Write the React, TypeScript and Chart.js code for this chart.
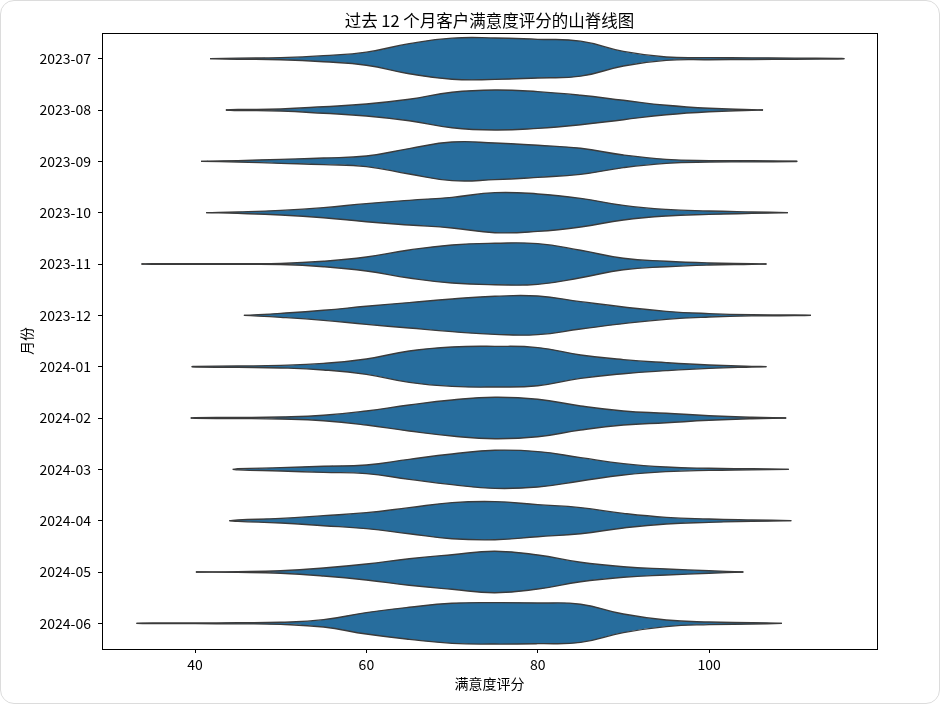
import React, { useEffect, useRef } from "react";
import { Chart, registerables } from "chart.js";

Chart.register(...registerables);

// ---- data ----
const months = [
  "2023-07", "2023-08", "2023-09", "2023-10", "2023-11", "2023-12",
  "2024-01", "2024-02", "2024-03", "2024-04", "2024-05", "2024-06",
];

// score positions at which the violin half-widths were read
const scoreGrid = [35, 40, 45, 50, 55, 60, 65, 70, 75, 80, 85, 90, 95, 100, 105, 110, 115];

// lowest / highest extent of each violin (score)
const scoreMin = [41.75, 43.6, 40.7, 41.3, 33.75, 45.7, 39.6, 39.5, 44.4, 44.0, 40.1, 33.16];
const scoreMax = [115.8, 106.3, 110.3, 109.2, 106.7, 111.9, 106.7, 109.0, 109.3, 109.6, 104.0, 108.5];

// half-width of each violin (in category units) at scoreGrid
const width2023_07 = [null, null, 0.010, 0.020, 0.059, 0.127, 0.293, 0.400, 0.404, 0.376, 0.341, 0.142, 0.033, 0.020, 0.016, 0.010, 0.006];
const width2023_08 = [null, null, 0.010, 0.020, 0.064, 0.117, 0.209, 0.345, 0.390, 0.357, 0.287, 0.189, 0.092, 0.033, 0.006, null, null];
const width2023_09 = [null, null, 0.014, 0.039, 0.064, 0.103, 0.248, 0.376, 0.357, 0.312, 0.254, 0.123, 0.039, 0.014, 0.010, 0.004, null];
const width2023_10 = [null, null, 0.014, 0.045, 0.098, 0.176, 0.240, 0.298, 0.390, 0.365, 0.279, 0.142, 0.064, 0.033, 0.014, null, null];
const width2023_11 = [0.006, 0.006, 0.006, 0.010, 0.053, 0.137, 0.273, 0.371, 0.404, 0.396, 0.267, 0.111, 0.053, 0.020, 0.006, null, null];
const width2023_12 = [null, null, null, 0.039, 0.098, 0.176, 0.248, 0.318, 0.371, 0.376, 0.267, 0.162, 0.078, 0.033, 0.010, 0.006, null];
const width2024_01 = [null, 0.006, 0.014, 0.025, 0.064, 0.150, 0.306, 0.384, 0.396, 0.371, 0.228, 0.137, 0.078, 0.033, 0.006, null, null];
const width2024_02 = [null, 0.006, 0.010, 0.020, 0.053, 0.137, 0.254, 0.351, 0.404, 0.365, 0.234, 0.137, 0.092, 0.045, 0.014, null, null];
const width2024_03 = [null, null, 0.010, 0.033, 0.059, 0.084, 0.195, 0.298, 0.371, 0.345, 0.228, 0.111, 0.045, 0.020, 0.010, null, null];
const width2024_04 = [null, null, 0.014, 0.045, 0.098, 0.156, 0.254, 0.351, 0.371, 0.312, 0.254, 0.142, 0.064, 0.033, 0.014, null, null];
const width2024_05 = [null, null, 0.006, 0.025, 0.078, 0.156, 0.259, 0.337, 0.404, 0.332, 0.189, 0.103, 0.059, 0.025, null, null, null];
const width2024_06 = [0.006, 0.006, 0.010, 0.020, 0.072, 0.209, 0.312, 0.390, 0.404, 0.396, 0.371, 0.181, 0.064, 0.025, 0.014, null, null];

const monthWidths: (number | null)[][] = [
  width2023_07, width2023_08, width2023_09, width2023_10, width2023_11, width2023_12,
  width2024_01, width2024_02, width2024_03, width2024_04, width2024_05, width2024_06,
];

const xTicks = [40, 60, 80, 100];

const TITLE = "过去 12 个月客户满意度评分的山脊线图";
const X_TITLE = "满意度评分";
const Y_TITLE = "月份";

// ---- styles ----
const FONT = "'Noto Sans CJK SC', 'Noto Sans', sans-serif";
const FILL = "#276d9d";
const EDGE = "#3b3b3b";

function buildProfile(i: number) {
  const pts: { x: number; w: number }[] = [{ x: scoreMin[i], w: 0 }];
  scoreGrid.forEach((s, k) => {
    const w = monthWidths[i][k];
    if (w !== null && s > scoreMin[i] && s < scoreMax[i]) pts.push({ x: s, w });
  });
  pts.push({ x: scoreMax[i], w: 0 });
  return pts;
}

const framePlugin = {
  id: "frame",
  afterDraw(chart: any) {
    const { ctx, chartArea } = chart;
    const l = Math.round(chartArea.left) + 0.5;
    const t = Math.round(chartArea.top) + 0.5;
    const r = Math.round(chartArea.right) + 0.5;
    const b = Math.round(chartArea.bottom) + 0.5;
    ctx.save();
    ctx.strokeStyle = "#000";
    ctx.lineWidth = 1;
    ctx.strokeRect(l, t, r - l, b - t);
    ctx.restore();
  },
};

export default function App() {
  const ref = useRef<HTMLCanvasElement | null>(null);

  useEffect(() => {
    if (!ref.current) return;
    const datasets: any[] = [];
    months.forEach((m, i) => {
      const prof = buildProfile(i);
      const common = {
        borderColor: EDGE,
        borderWidth: 1.4,
        pointRadius: 0,
        pointHoverRadius: 0,
        tension: 0.45,
        backgroundColor: FILL,
      };
      datasets.push({
        ...common,
        label: m + " upper",
        data: prof.map((p) => ({ x: p.x, y: i - p.w })),
        fill: "+1",
      });
      datasets.push({
        ...common,
        label: m + " lower",
        data: prof.map((p) => ({ x: p.x, y: i + p.w })),
        fill: false,
      });
    });

    const chart = new Chart(ref.current, {
      type: "line",
      data: { datasets },
      options: {
        responsive: false,
        animation: false,
        events: [],
        layout: { padding: { left: 0, right: 63, top: 0, bottom: 0 } },
        plugins: {
          legend: { display: false },
          tooltip: { enabled: false },
          filler: { drawTime: "beforeDatasetsDraw", propagate: false },
          title: {
            display: true,
            text: TITLE,
            fullSize: false,
            color: "#000",
            font: { family: FONT, size: 16.5, weight: "normal" },
            padding: { top: 10.4, bottom: 2.8 },
          },
        } as any,
        scales: {
          x: {
            type: "linear",
            min: 29.14,
            max: 119.6,
            afterBuildTicks: (s: any) => {
              s.ticks = xTicks.map((v) => ({ value: v }));
            },
            afterFit: (s: any) => {
              s.height = 55;
            },
            grid: {
              display: true,
              drawOnChartArea: false,
              drawTicks: true,
              tickLength: 4,
              tickColor: "#000",
              tickWidth: 1,
            },
            border: { display: false },
            ticks: {
              color: "#000",
              font: { family: FONT, size: 14 },
              padding: 3,
              maxRotation: 0,
              autoSkip: false,
            },
            title: {
              display: true,
              text: X_TITLE,
              color: "#000",
              font: { family: FONT, size: 14 },
              padding: { top: 0, bottom: 12.3 },
            },
          },
          y: {
            type: "linear",
            reverse: true,
            min: -0.5,
            max: 11.5,
            afterBuildTicks: (s: any) => {
              s.ticks = months.map((_, i) => ({ value: i }));
            },
            afterFit: (s: any) => {
              s.width = 102;
            },
            grid: {
              display: true,
              drawOnChartArea: false,
              drawTicks: true,
              tickLength: 4,
              tickColor: "#000",
              tickWidth: 1,
            },
            border: { display: false },
            ticks: {
              color: "#000",
              font: { family: FONT, size: 14 },
              padding: 7,
              autoSkip: false,
              callback: (v: any) => months[Math.round(Number(v))] ?? "",
            },
            title: {
              display: true,
              text: Y_TITLE,
              color: "#000",
              font: { family: FONT, size: 14 },
              padding: { top: 18.3, bottom: 0 },
            },
          },
        },
      } as any,
      plugins: [framePlugin],
    });
    return () => chart.destroy();
  }, []);

  return (
    <div
      style={{
        position: "fixed",
        left: 0,
        top: 0,
        width: 940,
        height: 704,
        background: "#fff",
      }}
    >
      <canvas
        ref={ref}
        width={940}
        height={704}
        style={{ position: "absolute", left: 0, top: 0, width: 940, height: 704 }}
      />
      <div
        style={{
          position: "absolute",
          left: 0,
          top: 0,
          width: 940,
          height: 704,
          boxSizing: "border-box",
          border: "1.5px solid #dcdcdc",
          borderRadius: 14,
          pointerEvents: "none",
        }}
      />
    </div>
  );
}
